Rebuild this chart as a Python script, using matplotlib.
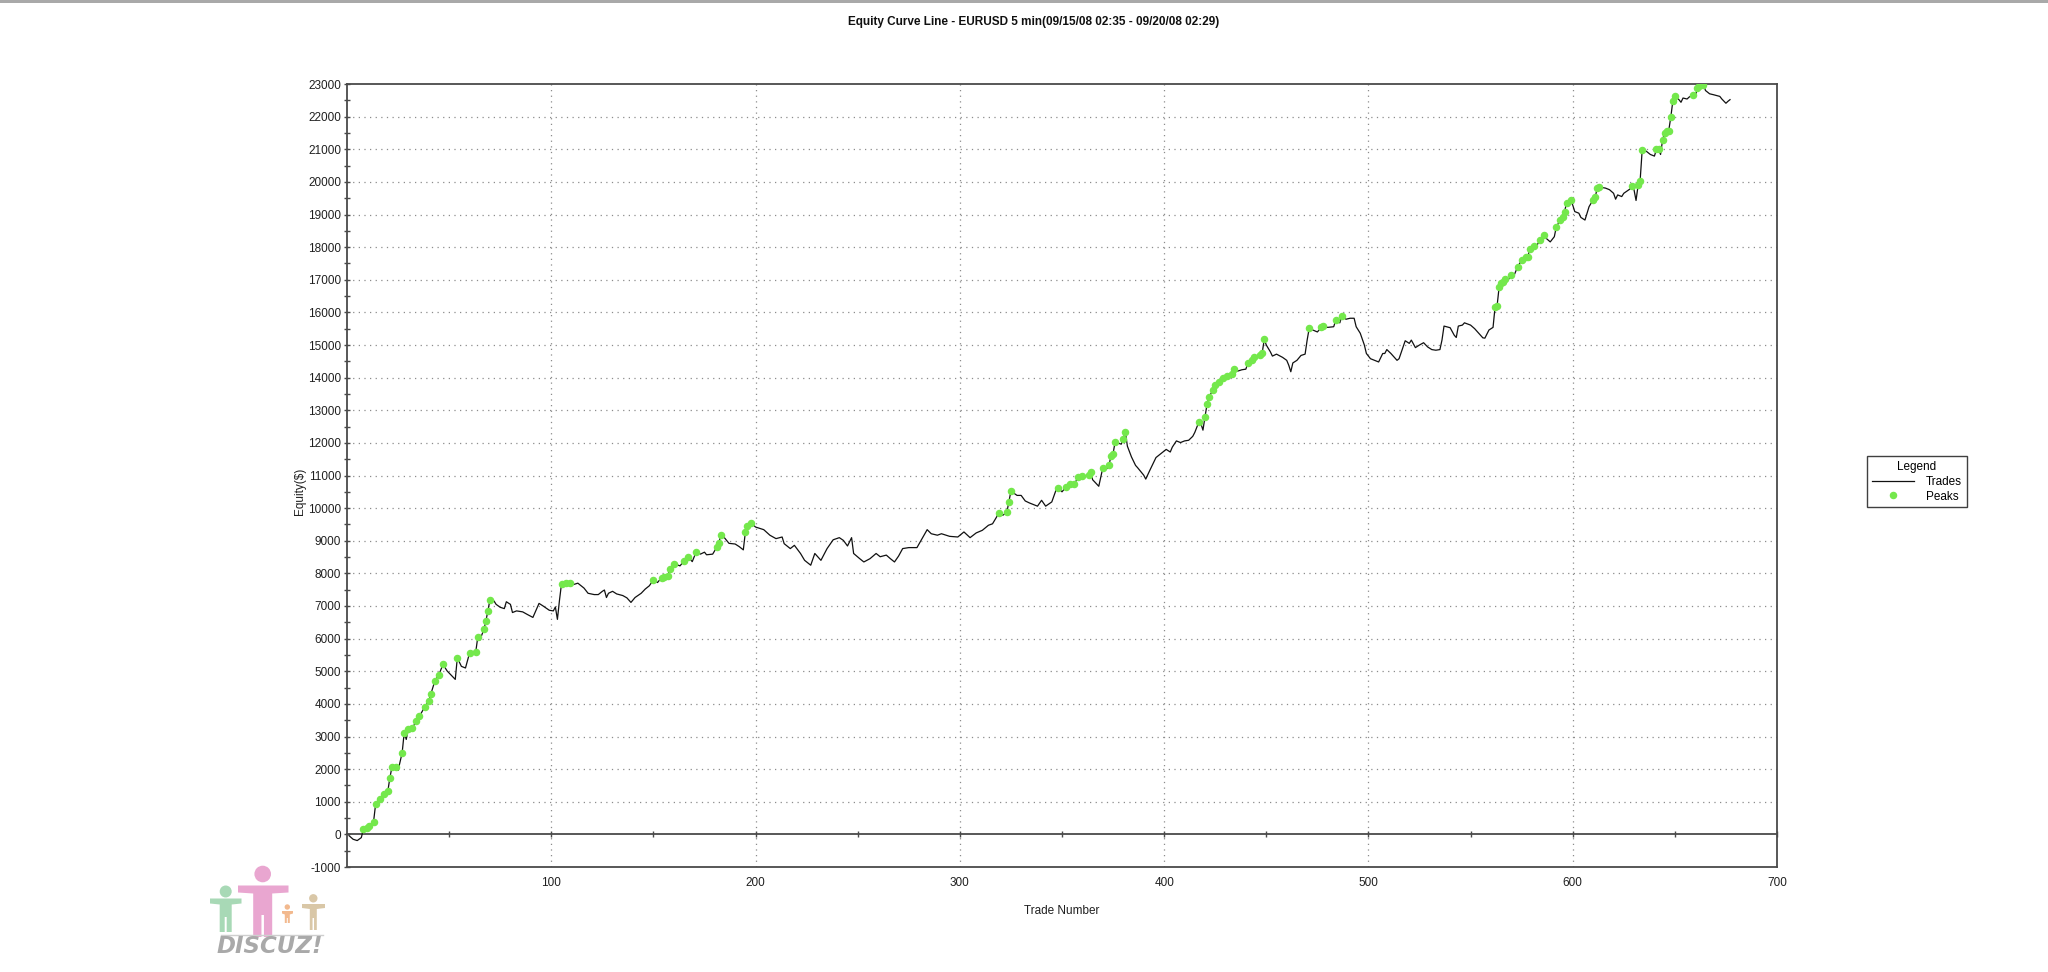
import matplotlib
matplotlib.use("Agg")
import matplotlib.pyplot as plt
from matplotlib.lines import Line2D
from matplotlib.patches import Rectangle, Circle, Polygon
from matplotlib.ticker import MultipleLocator

# ---------------- data ----------------
trades = [1, 3, 5, 7, 8, 10, 11, 13, 14, 16, 18, 20, 21, 22, 24, 25, 27, 28, 29, 30,
          32, 34, 35, 36, 38, 40, 41, 43, 45, 47, 49, 53, 54, 56, 58, 60, 63, 64, 65, 67,
          68, 69, 70, 72, 73, 75, 77, 78, 80, 81, 83, 86, 88, 91, 94, 96, 99, 101, 102, 103,
          104, 105, 107, 109, 111, 113, 116, 118, 121, 123, 125, 126, 127, 128, 130, 132, 135, 137, 139, 141,
          144, 146, 148, 150, 152, 154, 155, 157, 158, 160, 163, 165, 167, 169, 171, 173, 175, 176, 179, 181,
          182, 183, 184, 186, 187, 190, 192, 194, 195, 196, 198, 200, 204, 207, 210, 213, 214, 217, 219, 222,
          224, 227, 229, 232, 235, 238, 241, 243, 245, 247, 248, 251, 253, 256, 259, 261, 264, 266, 268, 270,
          272, 275, 279, 281, 282, 284, 286, 289, 291, 295, 299, 302, 305, 308, 311, 314, 316, 318, 319, 321,
          323, 324, 325, 328, 330, 332, 334, 338, 340, 342, 345, 347, 348, 350, 352, 354, 356, 358, 360, 363,
          364, 365, 368, 369, 370, 372, 373, 374, 375, 376, 379, 380, 381, 382, 384, 386, 387, 390, 391, 393,
          396, 398, 401, 403, 404, 406, 408, 410, 412, 414, 415, 417, 418, 419, 420, 421, 422, 424, 425, 427,
          429, 431, 433, 434, 436, 438, 440, 441, 443, 444, 447, 448, 449, 450, 452, 453, 455, 458, 460, 461,
          462, 463, 465, 467, 469, 470, 471, 472, 475, 477, 478, 480, 483, 484, 486, 487, 489, 491, 493, 494,
          496, 498, 499, 501, 503, 505, 507, 508, 509, 511, 514, 515, 518, 520, 521, 523, 525, 527, 529, 531,
          533, 535, 536, 537, 540, 542, 543, 544, 546, 547, 550, 552, 554, 556, 557, 559, 561, 562, 563, 564,
          565, 566, 567, 568, 570, 571, 573, 575, 577, 578, 579, 581, 582, 584, 586, 587, 589, 591, 592, 594,
          595, 596, 597, 599, 600, 601, 603, 604, 606, 607, 608, 610, 611, 612, 613, 616, 618, 620, 621, 622,
          624, 625, 628, 629, 630, 631, 632, 633, 634, 636, 638, 640, 641, 642, 643, 644, 645, 646, 647, 648,
          649, 650, 652, 653, 654, 656, 657, 659, 660, 661, 662, 664, 665, 667, 669, 672, 673, 675, 676, 677]

equity = [-40, -150, -190, -100, 150, 200, 260, 390, 920, 1090, 1230, 1330, 1740, 2060, 2070, 1960, 2500, 3120, 2910, 3220,
          3270, 3470, 3630, 3680, 3900, 4090, 4290, 4700, 4900, 5210, 5010, 4750, 5410, 5150, 5100, 5560, 5580, 6040, 5950, 6280,
          6540, 6860, 7190, 7150, 7050, 6960, 6920, 7130, 7050, 6800, 6850, 6820, 6750, 6650, 7080, 7000, 6870, 6850, 6970, 6590,
          7170, 7680, 7700, 7720, 7660, 7700, 7550, 7390, 7350, 7350, 7450, 7490, 7260, 7390, 7450, 7370, 7320, 7250, 7110, 7260,
          7390, 7520, 7620, 7800, 7720, 7870, 7890, 7920, 8130, 8300, 8230, 8380, 8510, 8360, 8670, 8590, 8650, 8570, 8590, 8800,
          8920, 9180, 9150, 9000, 8920, 8900, 8820, 8720, 9260, 9460, 9530, 9420, 9340, 9170, 9065, 9115, 8910, 8760, 8860, 8610,
          8400, 8250, 8610, 8400, 8760, 9030, 9095, 9010, 8840, 9095, 8610, 8450, 8350, 8450, 8610, 8510, 8560, 8450, 8350, 8530,
          8760, 8790, 8790, 9010, 9115, 9340, 9215, 9170, 9215, 9135, 9115, 9270, 9095, 9240, 9320, 9475, 9520, 9730, 9860, 9780,
          9870, 10190, 10520, 10390, 10390, 10220, 10160, 10060, 10240, 10060, 10190, 10540, 10630, 10500, 10650, 10730, 10750, 10940, 10980, 11010,
          11110, 10870, 10670, 10960, 11240, 11210, 11310, 11610, 11670, 12030, 11960, 12130, 12340, 11900, 11570, 11310, 11240, 11010, 10890, 11160,
          11550, 11650, 11800, 11720, 11870, 12060, 12010, 12060, 12080, 12200, 12320, 12640, 12590, 12390, 12800, 13180, 13410, 13630, 13770, 13870,
          14000, 14040, 14120, 14270, 14200, 14240, 14260, 14450, 14530, 14630, 14680, 14760, 15170, 15000, 14790, 14660, 14720, 14620, 14530, 14380,
          14180, 14450, 14530, 14680, 14720, 15150, 15510, 15480, 15400, 15540, 15580, 15540, 15560, 15760, 15680, 15890, 15790, 15820, 15820, 15560,
          15360, 15000, 14740, 14580, 14530, 14480, 14740, 14740, 14860, 14740, 14530, 14580, 15130, 15050, 15150, 14920, 15000, 15070, 14940, 14860,
          14840, 14860, 15150, 15580, 15530, 15300, 15230, 15580, 15610, 15680, 15610, 15500, 15360, 15220, 15210, 15460, 15540, 16170, 16210, 16790,
          16890, 16940, 17010, 16960, 17140, 17090, 17390, 17600, 17690, 17700, 17950, 18030, 18010, 18210, 18370, 18270, 18160, 18320, 18630, 18830,
          18930, 19090, 19350, 19430, 19290, 19090, 19040, 18910, 18830, 19040, 19240, 19450, 19530, 19810, 19840, 19810, 19760, 19650, 19470, 19600,
          19550, 19650, 19780, 19880, 19760, 19430, 19890, 20040, 20970, 20940, 20840, 20790, 21000, 21010, 20840, 21290, 21510, 21560, 21570, 21980,
          22470, 22640, 22520, 22440, 22570, 22540, 22600, 22670, 22620, 22870, 22950, 22980, 22800, 22700, 22670, 22620, 22540, 22410, 22470, 22520]

peak_trades = [8, 10, 11, 13, 14, 16, 18, 20, 21, 22, 24, 27, 28, 30, 32, 34, 35, 38, 40, 41,
               43, 45, 47, 54, 60, 63, 64, 67, 68, 69, 70, 105, 107, 109, 150, 154, 155, 157, 158, 160,
               165, 167, 171, 181, 182, 183, 195, 196, 198, 319, 323, 324, 325, 348, 352, 354, 356, 358, 360, 363,
               364, 370, 373, 374, 375, 376, 380, 381, 417, 420, 421, 422, 424, 425, 427, 429, 431, 433, 434, 441,
               443, 444, 447, 448, 449, 471, 477, 478, 484, 487, 562, 563, 564, 565, 566, 567, 570, 573, 575, 577,
               578, 579, 581, 584, 586, 592, 594, 595, 596, 597, 599, 610, 611, 612, 613, 629, 632, 633, 634, 641,
               642, 644, 645, 646, 647, 648, 649, 650, 659, 661, 662, 664]
peak_equity = [150, 200, 260, 390, 920, 1090, 1230, 1330, 1740, 2060, 2070, 2500, 3120, 3220, 3270, 3470, 3630, 3900, 4090, 4290,
               4700, 4900, 5210, 5410, 5560, 5580, 6040, 6280, 6540, 6860, 7190, 7680, 7700, 7720, 7800, 7870, 7890, 7920, 8130, 8300,
               8380, 8510, 8670, 8800, 8920, 9180, 9260, 9460, 9530, 9860, 9870, 10190, 10520, 10630, 10650, 10730, 10750, 10940, 10980, 11010,
               11110, 11240, 11310, 11610, 11670, 12030, 12130, 12340, 12640, 12800, 13180, 13410, 13630, 13770, 13870, 14000, 14040, 14120, 14270, 14450,
               14530, 14630, 14680, 14760, 15170, 15510, 15540, 15580, 15760, 15890, 16170, 16210, 16790, 16890, 16940, 17010, 17140, 17390, 17600, 17690,
               17700, 17950, 18030, 18210, 18370, 18630, 18830, 18930, 19090, 19350, 19430, 19450, 19530, 19810, 19840, 19880, 19890, 20040, 20970, 21000,
               21010, 21290, 21510, 21560, 21570, 21980, 22470, 22640, 22670, 22870, 22950, 22980]

x_tick_labels = ["100", "200", "300", "400", "500", "600", "700"]
title_text = "Equity Curve Line - EURUSD 5 min(09/15/08 02:35 - 09/20/08 02:29)"

# ---------------- figure ----------------
W, H = 2048, 972
plt.rcParams['font.family'] = ['Liberation Sans', 'DejaVu Sans']
fig = plt.figure(figsize=(W / 100, H / 100), dpi=100, facecolor='white')

# thin gray strip at very top
fig.patches.append(Rectangle((0, 1 - 3 / H), 1, 3 / H, transform=fig.transFigure,
                             facecolor='#a9a9a9', edgecolor='none'))

L, R, T, B = 347, 1777, 84, 867
ax = fig.add_axes([L / W, 1 - B / H, (R - L) / W, (B - T) / H])
ax.set_xlim(0, 700)
ax.set_ylim(-1000, 23000)

spine_col = '#4a4a4a'
for s in ax.spines.values():
    s.set_color(spine_col)
    s.set_linewidth(1.3)

# grid
grid_style = dict(color='#8c8c8c', linewidth=0.9, linestyle=(0, (1, 3.5)))
for gx in [100, 200, 300, 400, 500, 600]:
    ax.axvline(gx, zorder=0, **grid_style)
for gy in range(1000, 23000, 1000):
    ax.axhline(gy, zorder=0, **grid_style)

# y axis ticks
ax.yaxis.set_major_locator(MultipleLocator(1000))
ax.yaxis.set_minor_locator(MultipleLocator(500))
ax.tick_params(axis='y', which='both', direction='inout', length=4, width=1,
               color=spine_col, pad=2.3, labelsize=8.5, labelcolor='#202020')
ax.yaxis.set_major_formatter(plt.FuncFormatter(lambda v, p: f"{int(v)}"))

# x axis labels on bottom (no ticks)
ax.set_xticks([100, 200, 300, 400, 500, 600, 700])
ax.set_xticklabels(x_tick_labels)
ax.tick_params(axis='x', which='both', length=0, pad=7, labelsize=8.5, labelcolor='#202020')

# zero line with ticks
sec = ax.secondary_xaxis(1 / 24)
sec.set_xticks(list(range(50, 701, 50)))
sec.tick_params(axis='x', direction='inout', length=5, width=1, color=spine_col, labelbottom=False)
sec.spines['bottom'].set_color(spine_col)
sec.spines['bottom'].set_linewidth(1.3)

# data
line, = ax.plot(trades, equity, color='#111111', linewidth=0.9, zorder=3)
green = '#74e84c'
ax.plot(peak_trades, peak_equity, linestyle='none', marker='o', markersize=4.4,
        markerfacecolor=green, markeredgecolor=green, zorder=4)

ax.set_xlabel("Trade Number", fontsize=8.5, labelpad=12, color='#202020')
ax.set_ylabel("Equity($)", fontsize=8.5, color='#202020')
ax.yaxis.set_label_coords((306 - L) / (R - L), 1 - (491 - T) / (B - T))

# title
fig.text(1034 / W, 1 - 22 / H, title_text, ha='center', va='center', fontsize=8.5,
         fontweight='bold', family=['Liberation Sans Narrow', 'Liberation Sans', 'DejaVu Sans'],
         color='#101010')

# legend
h_line = Line2D([], [], color='#111111', linewidth=0.9)
h_peak = Line2D([], [], linestyle='none', marker='o', markersize=4.4,
                markerfacecolor=green, markeredgecolor=green)
leg = ax.legend([h_line, h_peak], ["Trades", "Peaks"], title="Legend",
                loc='upper left', bbox_to_anchor=(1867 / W, 1 - 456 / H),
                bbox_transform=fig.transFigure, borderaxespad=0, fancybox=False,
                frameon=True, edgecolor='#404040', fontsize=8.5, title_fontsize=8.5,
                handlelength=3.6, handletextpad=1.0, labelspacing=0.25, borderpad=0.4,
                framealpha=1)
leg.get_frame().set_linewidth(1.0)

# DISCUZ! watermark
lax = fig.add_axes([190 / W, 0, 160 / W, 122 / H])
lax.set_xlim(190, 350)
lax.set_ylim(972, 850)
lax.axis('off')


def person(cx, hy, hr, arm_l, arm_r, arm_top, arm_t, body_w, hip, foot, gap, col):
    lax.add_patch(Circle((cx, hy), hr, facecolor=col, edgecolor='none'))
    pts = [(arm_l, arm_top), (arm_r, arm_top), (arm_r, arm_top + arm_t),
           (cx + body_w / 2, arm_top + arm_t + 1), (cx + body_w / 2, foot),
           (cx + gap / 2, foot), (cx + gap / 2, hip), (cx - gap / 2, hip),
           (cx - gap / 2, foot), (cx - body_w / 2, foot),
           (cx - body_w / 2, arm_top + arm_t + 1), (arm_l, arm_top + arm_t)]
    lax.add_patch(Polygon(pts, closed=True, facecolor=col, edgecolor='none'))


person(225.7, 891.5, 6.0, 210, 241.5, 898.5, 5, 12, 917, 932, 2, '#a8d9b6')
person(262.7, 874.0, 8.3, 238, 288.5, 885.5, 7, 19, 915, 937, 2.5, '#e9a6d0')
person(287.3, 907.0, 2.7, 282, 293, 911, 2.5, 5, 918, 923, 1, '#f2b98e')
person(313.3, 898.3, 4.2, 302, 325, 904, 4, 7, 918, 930, 1.5, '#d9c7a7')
lax.plot([221, 323], [935, 935], color='#cfcfcf', linewidth=1.0)
lax.text(269.5, 946.5, "DISCUZ!", ha='center', va='center', fontsize=16.5,
         fontweight='bold', fontstyle='italic', family=['DejaVu Sans'], color='#a9a9a9')

fig.savefig("out.png", dpi=100, facecolor='white')
